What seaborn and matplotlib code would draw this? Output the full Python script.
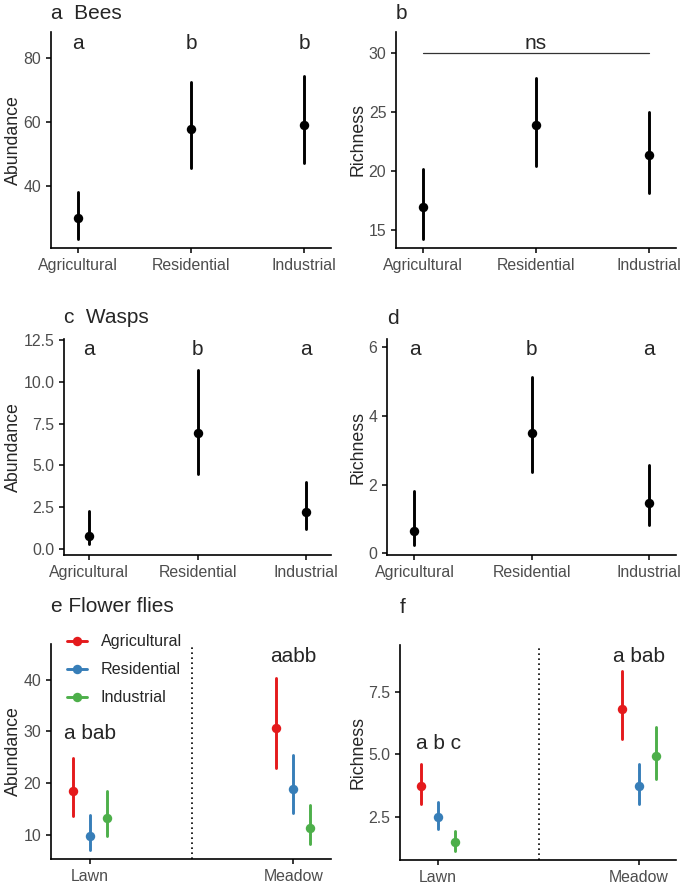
import matplotlib
matplotlib.use("Agg")
import matplotlib.pyplot as plt
from matplotlib.lines import Line2D
from matplotlib.ticker import FixedLocator, StrMethodFormatter
import seaborn as sns
import pandas as pd

# ---------------- data ----------------
land_use = ["Agricultural", "Residential", "Industrial"]
habitat = ["Lawn", "Meadow"]

bees_abund_mean = [30.1, 57.6, 59.1]
bees_abund_lo = [23.5, 45.7, 47.0]
bees_abund_hi = [38.2, 72.5, 74.3]
bees_abund_letters = ["a", "b", "b"]

bees_rich_mean = [16.96, 23.86, 21.33]
bees_rich_lo = [14.23, 20.43, 18.15]
bees_rich_hi = [20.14, 27.92, 25.03]
bees_rich_label = "ns"

wasps_abund_mean = [0.78, 6.94, 2.20]
wasps_abund_lo = [0.28, 4.48, 1.20]
wasps_abund_hi = [2.30, 10.73, 4.00]
wasps_abund_letters = ["a", "b", "a"]

wasps_rich_mean = [0.66, 3.49, 1.46]
wasps_rich_lo = [0.24, 2.38, 0.82]
wasps_rich_hi = [1.81, 5.13, 2.57]
wasps_rich_letters = ["a", "b", "a"]

# flower flies, per land use: values for [Lawn, Meadow]
flies_abund_mean = {"Agricultural": [18.45, 30.6], "Residential": [9.75, 18.9], "Industrial": [13.3, 11.3]}
flies_abund_lo = {"Agricultural": [13.6, 23.0], "Residential": [6.96, 14.2], "Industrial": [9.8, 8.2]}
flies_abund_hi = {"Agricultural": [24.8, 40.3], "Residential": [13.8, 25.5], "Industrial": [18.4, 15.7]}
flies_abund_letters = ["a bab", "aabb"]

flies_rich_mean = {"Agricultural": [3.73, 6.83], "Residential": [2.50, 3.74], "Industrial": [1.50, 4.94]}
flies_rich_lo = {"Agricultural": [3.03, 5.61], "Residential": [2.00, 3.03], "Industrial": [1.14, 4.03]}
flies_rich_hi = {"Agricultural": [4.61, 8.33], "Residential": [3.08, 4.61], "Industrial": [1.94, 6.09]}
flies_rich_letters = ["a b c", "a bab"]

colors = {"Agricultural": "#E41A1C", "Residential": "#377EB8", "Industrial": "#4DAF4A"}

# ---------------- style ----------------
sns.set_style("ticks")
plt.rcParams["font.family"] = ["Liberation Sans", "DejaVu Sans"]
plt.rcParams["axes.linewidth"] = 1.2
plt.rcParams["xtick.major.width"] = 1.1
plt.rcParams["ytick.major.width"] = 1.1
plt.rcParams["xtick.major.size"] = 3.5
plt.rcParams["ytick.major.size"] = 3.5
plt.rcParams["xtick.color"] = "black"
plt.rcParams["ytick.color"] = "black"
plt.rcParams["xtick.labelcolor"] = "#4D4D4D"
plt.rcParams["ytick.labelcolor"] = "#4D4D4D"
plt.rcParams["xtick.labelsize"] = 11.4
plt.rcParams["ytick.labelsize"] = 11.4
plt.rcParams["axes.edgecolor"] = "black"

W, H = 685, 885
fig = plt.figure(figsize=(W / 100, H / 100), dpi=100)


def add_ax(left, right, top, bottom):
    return fig.add_axes([left / W, 1 - bottom / H, (right - left) / W, (bottom - top) / H])


def triple_df(cats, lo, mean, hi, hue=None):
    rows = []
    for c, l, m, h in zip(cats, lo, mean, hi):
        for v in (l, m, h):
            rows.append({"cat": c, "val": v, "hue": hue})
    return rows


PT_KW = dict(estimator="median", errorbar=("pi", 100), linestyle="none",
             markersize=6.8, markeredgewidth=0,
             err_kws={"linewidth": 2.1, "linestyle": "-"})

LETTER_FS = 15
TITLE_FS = 15
LABEL_FS = 12.8


def simple_panel(ax, lo, mean, hi, ylim, yticks, ylabel, title, title_pad, fmt=None):
    df = pd.DataFrame(triple_df(land_use, lo, mean, hi))
    sns.pointplot(data=df, x="cat", y="val", order=land_use, color="black", ax=ax, **PT_KW)
    ax.set_xlim(-0.235, 2.235)
    ax.set_ylim(*ylim)
    ax.yaxis.set_major_locator(FixedLocator(yticks))
    if fmt:
        ax.yaxis.set_major_formatter(StrMethodFormatter(fmt))
    ax.set_xlabel("")
    ax.set_ylabel(ylabel, fontsize=LABEL_FS, labelpad=1.2)
    ax.set_title(title, loc="left", fontsize=TITLE_FS, pad=title_pad)
    sns.despine(ax=ax)


def flies_panel(ax, mean_d, lo_d, hi_d, ylim, yticks, ylabel, title, title_pad, fmt=None):
    rows = []
    for lu in land_use:
        rows += triple_df(habitat, lo_d[lu], mean_d[lu], hi_d[lu], hue=lu)
    df = pd.DataFrame(rows)
    sns.pointplot(data=df, x="cat", y="val", hue="hue", order=habitat, hue_order=land_use,
                  palette=colors, dodge=0.166, ax=ax, legend=False, **PT_KW)
    ax.axvline(0.5, color="black", linestyle=(0, (1, 2)), linewidth=1.2)
    ax.set_xlim(-0.19, 1.185)
    ax.set_ylim(*ylim)
    ax.yaxis.set_major_locator(FixedLocator(yticks))
    if fmt:
        ax.yaxis.set_major_formatter(StrMethodFormatter(fmt))
    ax.set_xlabel("")
    ax.set_ylabel(ylabel, fontsize=LABEL_FS, labelpad=1.2)
    ax.set_title(title, loc="left", fontsize=TITLE_FS, pad=title_pad)
    sns.despine(ax=ax)


# a Bees abundance
ax_a = add_ax(51, 331, 32, 248)
simple_panel(ax_a, bees_abund_lo, bees_abund_mean, bees_abund_hi, (20.6, 88), [40, 60, 80],
             "Abundance", "a  Bees", 9.1)
for i, t in enumerate(bees_abund_letters):
    ax_a.text(i, 82.6, t, ha="center", va="baseline", fontsize=LETTER_FS)

# b Bees richness
ax_b = add_ax(396, 676, 32, 248)
simple_panel(ax_b, bees_rich_lo, bees_rich_mean, bees_rich_hi, (13.44, 31.8), [15, 20, 25, 30],
             "Richness", "b", 9.1)
ax_b.plot([0, 2], [30, 30], color="#333333", linewidth=0.9)
ax_b.text(1, 30.34, bees_rich_label, ha="center", va="baseline", fontsize=LETTER_FS)

# c Wasps abundance
ax_c = add_ax(64, 331, 339, 555)
simple_panel(ax_c, wasps_abund_lo, wasps_abund_mean, wasps_abund_hi, (-0.36, 12.56),
             [0, 2.5, 5, 7.5, 10, 12.5], "Abundance", "c  Wasps", 11.3, fmt="{x:.1f}")
for i, t in enumerate(wasps_abund_letters):
    ax_c.text(i, 11.59, t, ha="center", va="baseline", fontsize=LETTER_FS)

# d Wasps richness
ax_d = add_ax(387, 676, 339, 555)
simple_panel(ax_d, wasps_rich_lo, wasps_rich_mean, wasps_rich_hi, (-0.05, 6.24), [0, 2, 4, 6],
             "Richness", "d", 10.8)
for i, t in enumerate(wasps_rich_letters):
    ax_d.text(i, 5.76, t, ha="center", va="baseline", fontsize=LETTER_FS)

# e Flower flies abundance
ax_e = add_ax(51, 331, 644, 859)
flies_panel(ax_e, flies_abund_mean, flies_abund_lo, flies_abund_hi, (5.3, 46.9), [10, 20, 30, 40],
            "Abundance", "e Flower flies", 23.4)
ax_e.text(0, 28.5, flies_abund_letters[0], ha="center", va="baseline", fontsize=LETTER_FS)
ax_e.text(1, 43.5, flies_abund_letters[1], ha="center", va="baseline", fontsize=LETTER_FS)
handles = [Line2D([], [], color=colors[lu], marker="o", linewidth=2.1, markersize=6.8,
                  markeredgewidth=0) for lu in land_use]
ax_e.legend(handles, land_use, loc="center left", bbox_to_anchor=(0.057, 0.880), frameon=False,
            borderpad=0, borderaxespad=0, handlelength=1.25, handletextpad=0.85,
            labelspacing=0.8, fontsize=11.6)

# f Flower flies richness
ax_f = add_ax(400, 676, 645, 860)
flies_panel(ax_f, flies_rich_mean, flies_rich_lo, flies_rich_hi, (0.77, 9.37), [2.5, 5.0, 7.5],
            "Richness", "f", 23.2, fmt="{x:.1f}")
ax_f.text(0, 5.2, flies_rich_letters[0], ha="center", va="baseline", fontsize=LETTER_FS)
ax_f.text(1, 8.7, flies_rich_letters[1], ha="center", va="baseline", fontsize=LETTER_FS)

fig.savefig("out.png", dpi=100)
